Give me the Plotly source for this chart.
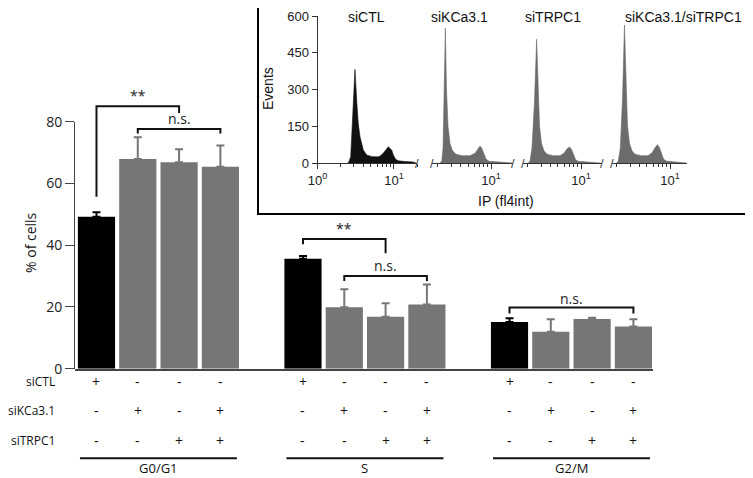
import numpy as np
import plotly.graph_objects as go

# ---------------- data ----------------
phases = ["G0/G1", "S", "G2/M"]
conditions = ["siCTL", "siKCa3.1", "siTRPC1", "siKCa3.1/siTRPC1"]
g0g1_vals = [49.2, 67.9, 66.9, 65.4]
g0g1_err = [1.5, 7.1, 4.2, 6.9]
s_vals = [35.6, 19.9, 16.8, 20.8]
s_err = [0.9, 5.8, 4.4, 6.5]
g2m_vals = [15.1, 12.0, 16.1, 13.7]
g2m_err = [1.2, 4.0, 0.4, 2.3]

row_names = ["siCTL", "siKCa3.1", "siTRPC1"]
row_signs = [["+", "-", "-", "-"], ["-", "+", "-", "+"], ["-", "-", "+", "+"]]
y_ticks = [0, 20, 40, 60, 80]

# significance brackets: (x_left, x_right, y_top, left_leg_end, right_leg_end, label, label_x, label_y)
brackets = [
    (0, 2, 85.0, 55.7, 82.8, "**", 1.0, 88.6),
    (1, 3, 77.6, 76.2, 76.2, "n.s.", 2.0, 81.0),
    (5, 7, 42.0, 40.3, 37.4, "**", 6.0, 45.4),
    (6, 8, 30.0, 28.4, 28.4, "n.s.", 7.0, 33.3),
    (10, 13, 19.8, 17.9, 17.9, "n.s.", 11.5, 22.8),
]

# flow-cytometry histograms (x = log10 of IP intensity, y = events)
p1_x = [0.392, 0.412, 0.434, 0.455, 0.473, 0.490, 0.512, 0.533, 0.556, 0.599, 0.643, 0.712, 0.791,
        0.817, 0.860, 0.905, 0.925, 0.970, 0.991, 1.022, 1.056, 1.144, 1.252, 1.288]
p1_y = [0, 5, 26, 148, 284, 382, 257, 162, 107, 53, 33, 26, 25, 28, 40, 60, 66, 53, 33, 15, 9, 6, 4, 0]
p2_x = [0.333, 0.356, 0.373, 0.388, 0.403, 0.418, 0.438, 0.464, 0.497, 0.542, 0.621, 0.725, 0.791,
        0.830, 0.856, 0.882, 0.908, 0.935, 0.974, 1.052, 1.183, 1.275]
p2_y = [0, 8, 60, 250, 550, 300, 150, 80, 50, 36, 30, 30, 40, 58, 69, 58, 35, 15, 7, 5, 3, 0]
p3_x = [0.314, 0.333, 0.359, 0.392, 0.420, 0.438, 0.458, 0.484, 0.516, 0.556, 0.634, 0.725, 0.778,
        0.817, 0.850, 0.876, 0.902, 0.928, 0.961, 1.052, 1.183, 1.248]
p3_y = [0, 8, 60, 250, 505, 300, 150, 80, 50, 36, 30, 30, 40, 58, 65, 55, 32, 14, 7, 4, 2, 0]
p4_x = [0.301, 0.324, 0.350, 0.379, 0.405, 0.425, 0.444, 0.471, 0.503, 0.542, 0.621, 0.712, 0.765,
        0.804, 0.837, 0.863, 0.889, 0.915, 0.948, 1.026, 1.131, 1.209]
p4_y = [0, 8, 60, 260, 563, 310, 155, 80, 50, 36, 30, 30, 42, 62, 75, 62, 38, 16, 8, 5, 3, 0]
hist_x = [p1_x, p2_x, p3_x, p4_x]
hist_y = [p1_y, p2_y, p3_y, p4_y]
inset_y_ticks = [0, 150, 300, 450, 600]

# ---------------- styling ----------------
W, H = 753, 478
OFF = 8  # page body margin offset
MAIN_FONT = "Open Sans"
INSET_FONT = "Liberation Sans"
BLACK = "#000000"
GRAY = "#767676"
HIST_GRAY = "#6c6c6c"


def px(x):
    return (x - OFF) / W


def py(y):
    return 1 - (y - OFF) / H


fig = go.Figure()

all_vals = [g0g1_vals, s_vals, g2m_vals]
all_err = [g0g1_err, s_err, g2m_err]
pos = [[g * 5 + c for c in range(4)] for g in range(3)]

# black (siCTL) bars
fig.add_trace(go.Bar(
    x=[pos[g][0] for g in range(3)], y=[all_vals[g][0] for g in range(3)],
    width=0.9, marker=dict(color=BLACK, line=dict(width=0)),
    error_y=dict(type="data", symmetric=False, array=[all_err[g][0] for g in range(3)],
                 arrayminus=[0, 0, 0], color=BLACK, thickness=2, width=4),
    xaxis="x", yaxis="y", hoverinfo="skip"))
# gray bars
gx, gy, ge = [], [], []
for g in range(3):
    for c in range(1, 4):
        gx.append(pos[g][c]); gy.append(all_vals[g][c]); ge.append(all_err[g][c])
fig.add_trace(go.Bar(
    x=gx, y=gy, width=0.9, marker=dict(color=GRAY, line=dict(width=0)),
    error_y=dict(type="data", symmetric=False, array=ge, arrayminus=[0] * len(ge),
                 color=GRAY, thickness=2, width=4),
    xaxis="x", yaxis="y", hoverinfo="skip"))

# inset histograms
hist_axes = ["x2", "x3", "x4", "x5"]
for i in range(4):
    col = "#111111" if i == 0 else HIST_GRAY
    fig.add_trace(go.Scatter(
        x=hist_x[i], y=hist_y[i], mode="lines", fill="tozeroy",
        line=dict(color=col, width=0.6), fillcolor=col,
        xaxis=hist_axes[i], yaxis="y2", hoverinfo="skip"))

shapes = []
annotations = []

# brackets
for (x0, x1, yt, l0, l1, lab, lx, ly) in brackets:
    shapes.append(dict(type="path", xref="x", yref="y",
                       path=f"M {x0},{l0} L {x0},{yt} L {x1},{yt} L {x1},{l1}",
                       line=dict(color="#111111", width=2)))
    annotations.append(dict(x=lx, y=ly, xref="x", yref="y", text=lab, showarrow=False,
                            font=dict(family=MAIN_FONT, size=14, color="#222"),
                            xanchor="center", yanchor="middle"))

# condition rows
row_y = [381, 410.5, 440]
for r, name in enumerate(row_names):
    annotations.append(dict(x=px(57), y=py(row_y[r]), xref="paper", yref="paper", text=name,
                            showarrow=False, xanchor="right", yanchor="middle",
                            font=dict(family=MAIN_FONT, size=12, color="#111")))
    for g in range(3):
        for c in range(4):
            annotations.append(dict(x=pos[g][c], y=py(row_y[r]), xref="x", yref="paper",
                                    text=row_signs[r][c], showarrow=False,
                                    xanchor="center", yanchor="middle",
                                    font=dict(family=MAIN_FONT, size=14, color="#111")))

# group underlines and phase labels
for g, ph in enumerate(phases):
    shapes.append(dict(type="line", xref="x", yref="paper", x0=pos[g][0] - 0.4, x1=pos[g][3] + 0.4,
                       y0=py(458.3), y1=py(458.3), line=dict(color="#111", width=2)))
    annotations.append(dict(x=(pos[g][0] + pos[g][3]) / 2, y=py(467.5), xref="x", yref="paper",
                            text=ph, showarrow=False, xanchor="center", yanchor="middle",
                            font=dict(family=MAIN_FONT, size=13, color="#111")))

# y title
annotations.append(dict(x=px(30), y=py(243), xref="paper", yref="paper", text="% of cells",
                        textangle=-90, showarrow=False, xanchor="center", yanchor="middle",
                        font=dict(family=MAIN_FONT, size=14, color="#111")))

# inset frame
shapes.append(dict(type="rect", xref="paper", yref="paper", x0=px(258), x1=px(751.5),
                   y0=py(214), y1=py(1.5), line=dict(color="#000", width=2)))

# inset titles
title_x = [366.4, 459.7, 552.7, 683.8]
for i, cname in enumerate(conditions):
    annotations.append(dict(x=px(title_x[i]), y=py(17), xref="paper", yref="paper", text=cname,
                            showarrow=False, xanchor="center", yanchor="middle",
                            font=dict(family=INSET_FONT, size=14, color="#111")))
annotations.append(dict(x=px(505.8), y=py(201), xref="paper", yref="paper", text="IP (fl4int)",
                        showarrow=False, xanchor="center", yanchor="middle",
                        font=dict(family=INSET_FONT, size=14, color="#111")))
annotations.append(dict(x=px(268), y=py(89), xref="paper", yref="paper", text="Events",
                        textangle=-90, showarrow=False, xanchor="center", yanchor="middle",
                        font=dict(family=INSET_FONT, size=14, color="#111")))

# axis-break marks
for i, ax in enumerate(hist_axes):
    if i < 3:
        annotations.append(dict(x=1, y=0, xref=f"{ax} domain", yref="y2", text="/",
                                showarrow=False, xanchor="center", yanchor="middle",
                                font=dict(family=INSET_FONT, size=13, color="#444")))
    if i > 0:
        annotations.append(dict(x=0, y=0, xref=f"{ax} domain", yref="y2", text="/",
                                showarrow=False, xanchor="center", yanchor="middle",
                                font=dict(family=INSET_FONT, size=13, color="#444")))

# ---------------- axes ----------------
main_x_dom = [px(75), px(652.7)]
fig.update_layout(
    template="none",
    width=W, height=H, autosize=False,
    margin=dict(l=0, r=0, t=0, b=0, pad=0, autoexpand=False),
    paper_bgcolor="white", plot_bgcolor="rgba(0,0,0,0)", showlegend=False,
    xaxis=dict(domain=main_x_dom, range=[-0.52, 13.467], anchor="y", showline=True,
               linecolor="#444", linewidth=2, showticklabels=False, ticks="", showgrid=False,
               zeroline=False, fixedrange=True, automargin=False),
    yaxis=dict(domain=[py(368.7), py(59.95)], range=[0, 100], anchor="x", visible=False,
               showgrid=False, zeroline=False, automargin=False),
    yaxis6=dict(domain=[py(368.7), py(121.7)], range=[0, 80], anchor="x", showline=True,
                linecolor="#444", linewidth=1, ticks="outside", ticklen=9, tickcolor="#444",
                tickvals=y_ticks, tickfont=dict(family=MAIN_FONT, size=14, color="#222"),
                showgrid=False, zeroline=False, automargin=False),
    yaxis2=dict(domain=[py(163), py(16)], range=[0, 600], anchor="x2", showline=True,
                linecolor="#333", linewidth=1, ticks="outside", ticklen=5, tickcolor="#333",
                tickvals=inset_y_ticks, tickfont=dict(family=INSET_FONT, size=13, color="#222"),
                showgrid=False, zeroline=False, automargin=False),
)

minor_vals = list(np.log10([2, 3, 4, 5, 6, 7, 8, 9, 20]))
inset_doms = [(317.5, 417.3), (431.7, 513.3), (523, 601.7), (612, 686.7)]
inset_ranges = [(0, 1.305), (0.225, 1.29), (0.242, 1.27), (0.242, 1.218)]
for i, ax in enumerate(hist_axes):
    key = "xaxis" + ax[1:]
    tv = [0, 1] if i == 0 else [1]
    tt = ["10<sup>0</sup>", "10<sup>1</sup>"] if i == 0 else ["10<sup>1</sup>"]
    fig.update_layout(**{key: dict(
        domain=[px(inset_doms[i][0]), px(inset_doms[i][1])], range=list(inset_ranges[i]),
        anchor="y2", showline=True, linecolor="#333", linewidth=1,
        ticks="outside", ticklen=5, tickcolor="#333", tickvals=tv, ticktext=tt,
        tickfont=dict(family=INSET_FONT, size=13, color="#222"),
        minor=dict(tickvals=minor_vals, ticks="outside", ticklen=3, tickcolor="#333"),
        showgrid=False, zeroline=False, automargin=False)})

# empty trace so that the y6 subplot (main y axis drawn 0-80) exists
fig.add_trace(go.Scatter(x=[None], y=[None], xaxis="x", yaxis="y6", showlegend=False, hoverinfo="skip"))

fig.update_layout(shapes=shapes, annotations=annotations)
fig.write_html("out.html")
